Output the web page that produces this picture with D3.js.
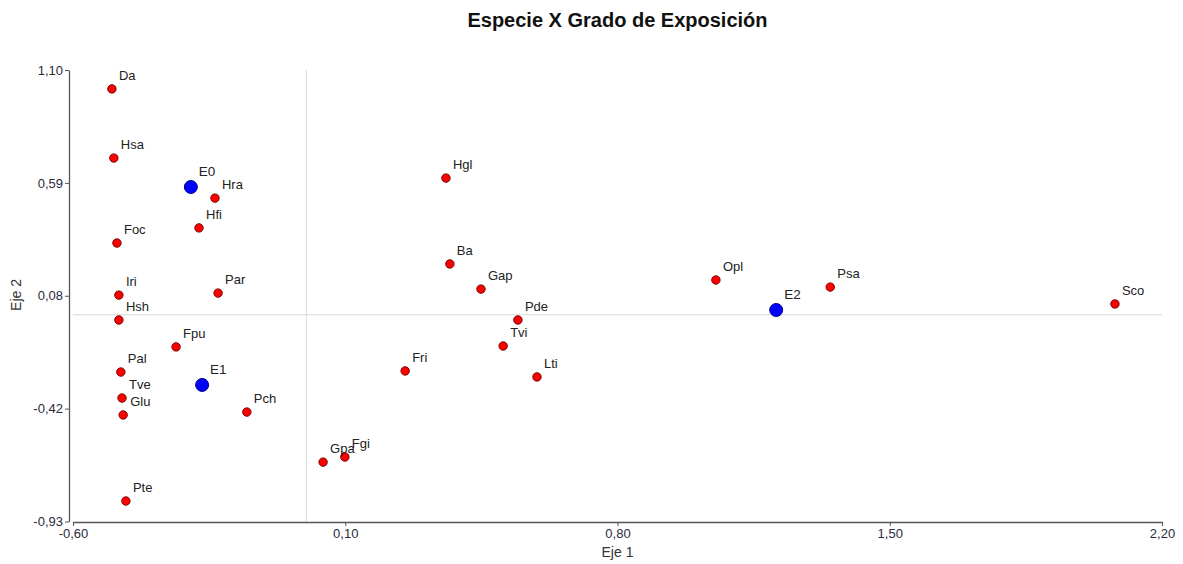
<!DOCTYPE html>
<html>
<head>
<meta charset="utf-8">
<script src="https://cdn.jsdelivr.net/npm/d3@7"></script>
<style>
  body { margin: 0; background: #fff; }
  svg { display: block; }
  text { font-family: "Liberation Sans", Arial, sans-serif; }
</style>
</head>
<body>
<svg id="chart" width="1183" height="564"></svg>
<script>
// ---- data ----
const speciesNames = ["Da","Hsa","Hra","Hfi","Foc","Iri","Par","Hsh","Fpu","Pal","Tve","Glu","Pch","Pte","Gpa","Fgi","Fri","Hgl","Ba","Gap","Pde","Tvi","Lti","Opl","Psa","Sco"];
const speciesX = [-0.500,-0.495,-0.235,-0.276,-0.487,-0.482,-0.227,-0.482,-0.335,-0.477,-0.474,-0.471,-0.153,-0.464,0.043,0.099,0.254,0.359,0.369,0.449,0.544,0.506,0.593,1.053,1.347,2.079];
const speciesY = [1.015,0.704,0.524,0.390,0.322,0.088,0.097,-0.024,-0.145,-0.258,-0.375,-0.451,-0.438,-0.838,-0.663,-0.640,-0.253,0.614,0.228,0.115,-0.024,-0.141,-0.280,0.156,0.124,0.048];

const exposureNames = ["E0","E1","E2"];
const exposureX = [-0.297,-0.268,1.208];
const exposureY = [0.574,-0.316,0.021];

const xTickValues = [-0.60, 0.10, 0.80, 1.50, 2.20];
const xTickLabels = ["-0,60","0,10","0,80","1,50","2,20"];
const yTickValues = [1.10, 0.5925, 0.085, -0.4225, -0.93];
const yTickLabels = ["1,10","0,59","0,08","-0,42","-0,93"];

const chartTitle = "Especie X Grado de Exposición";
const xTitle = "Eje 1";
const yTitle = "Eje 2";

// ---- drawing ----
const svg = d3.select("#chart");
const x = d3.scaleLinear().domain([-0.60, 2.20]).range([73, 1162]);
const y = d3.scaleLinear().domain([-0.93, 1.10]).range([521.5, 70]);

// reference lines at 0
svg.append("line")
  .attr("x1", x(0)).attr("x2", x(0))
  .attr("y1", y(1.10)).attr("y2", y(-0.93))
  .attr("stroke", "#e0e0e0").attr("stroke-width", 1.2);
svg.append("line")
  .attr("x1", x(-0.60)).attr("x2", x(2.20))
  .attr("y1", y(0)).attr("y2", y(0))
  .attr("stroke", "#e0e0e0").attr("stroke-width", 1.2);

// x axis
const xAxis = d3.axisBottom(x)
  .tickValues(xTickValues)
  .tickFormat((d, i) => xTickLabels[i])
  .tickSizeOuter(0).tickSizeInner(4).tickPadding(3);
const gx = svg.append("g").attr("transform", "translate(0,522)").call(xAxis);
gx.select(".domain").attr("stroke", "#555").attr("stroke-width", 1.3);
gx.selectAll(".tick line").attr("stroke", "#555");
gx.selectAll(".tick text").attr("fill", "#2a2a3a").style("font-size", "13px");

// y axis
const yAxis = d3.axisLeft(y)
  .tickValues(yTickValues)
  .tickFormat((d, i) => yTickLabels[i])
  .tickSizeOuter(0).tickSizeInner(4).tickPadding(2);
const gy = svg.append("g").attr("transform", "translate(69,0)").call(yAxis);
gy.select(".domain").attr("stroke", "#555").attr("stroke-width", 1.3);
gy.selectAll(".tick line").attr("stroke", "#555");
gy.selectAll(".tick text").attr("fill", "#2a2a3a").style("font-size", "13px");

// titles
svg.append("text").attr("x", 617.5).attr("y", 27)
  .attr("text-anchor", "middle").attr("font-weight", "bold")
  .style("font-size", "20px").attr("fill", "#111").text(chartTitle);
svg.append("text").attr("x", 617.5).attr("y", 557)
  .attr("text-anchor", "middle").style("font-size", "14px").attr("fill", "#333").text(xTitle);
svg.append("text").attr("transform", "translate(21,295) rotate(-90)")
  .attr("text-anchor", "middle").style("font-size", "14px").attr("fill", "#333").text(yTitle);

// species points
const species = speciesNames.map((n, i) => ({ name: n, x: speciesX[i], y: speciesY[i] }));
const exposure = exposureNames.map((n, i) => ({ name: n, x: exposureX[i], y: exposureY[i] }));

svg.append("g").selectAll("circle").data(species).join("circle")
  .attr("cx", d => x(d.x)).attr("cy", d => y(d.y)).attr("r", 4.2)
  .attr("fill", "#ff0000").attr("stroke", "#7a0000").attr("stroke-width", 1);

svg.append("g").selectAll("circle").data(exposure).join("circle")
  .attr("cx", d => x(d.x)).attr("cy", d => y(d.y)).attr("r", 6.5)
  .attr("fill", "#0000ff").attr("stroke", "#00008b").attr("stroke-width", 1);

svg.append("g").selectAll("text").data(species).join("text")
  .attr("x", d => x(d.x) + 7).attr("y", d => y(d.y) - 9)
  .style("font-size", "13px").attr("fill", "#222").text(d => d.name);

svg.append("g").selectAll("text").data(exposure).join("text")
  .attr("x", d => x(d.x) + 8).attr("y", d => y(d.y) - 11)
  .style("font-size", "13.5px").attr("fill", "#222").text(d => d.name);
</script>
</body>
</html>
